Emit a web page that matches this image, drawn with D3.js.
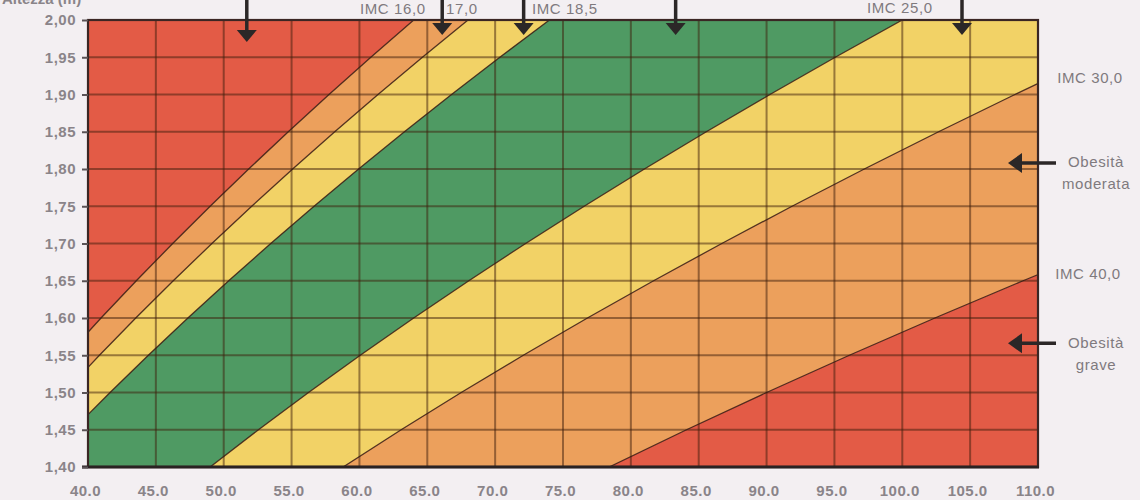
<!DOCTYPE html>
<html><head><meta charset="utf-8">
<script src="https://cdn.jsdelivr.net/npm/d3@7"></script>
<style>
html,body{margin:0;padding:0;background:#f3eff2;}
svg{display:block;}
text{font-family:"Liberation Sans","Arial",sans-serif;}
</style></head>
<body><svg id="c" width="1140" height="500"></svg>
<script>
// ---- data ----
const weightTicks = [40,45,50,55,60,65,70,75,80,85,90,95,100,105,110];
const weightLabels = ["40.0","45.0","50.0","55.0","60.0","65.0","70.0","75.0","80.0","85.0","90.0","95.0","100.0","105.0","110.0"];
const heightTicks = [1.40,1.45,1.50,1.55,1.60,1.65,1.70,1.75,1.80,1.85,1.90,1.95,2.00];
const heightLabels = ["1,40","1,45","1,50","1,55","1,60","1,65","1,70","1,75","1,80","1,85","1,90","1,95","2,00"];
const bmiThresholds = [16, 17, 18.5, 25, 30, 40];
const topArrowWeights = [51.7, 66.1, 72.1, 83.3, 104.4];
const topLabels = ["IMC 16,0", "17,0", "IMC 18,5", "IMC 25,0"];
const rightLabels = ["IMC 30,0", "Obesità", "moderata", "IMC 40,0", "Obesità", "grave"];
const rightArrowHeights = [1.808, 1.566];

// ---- styles / layout ----
const bandColors = ["#e35b46","#eca05c","#f2d266","#4f9a63","#f2d266","#eca05c","#e35b46"];
const M = {left:88, right:1038, top:20, bottom:467};
const svg = d3.select("#c");
const x = d3.scaleLinear().domain([40,110]).range([M.left, M.right]);
const y = d3.scaleLinear().domain([1.40,2.00]).range([M.bottom, M.top]);

svg.append("defs").append("clipPath").attr("id","pc")
  .append("rect").attr("x",M.left).attr("y",M.top).attr("width",M.right-M.left).attr("height",M.bottom-M.top);

const plot = svg.append("g").attr("clip-path","url(#pc)");

// bands: bounded by BMI isolines w = bmi * h^2, evaluated at the height ticks
const bounds = [0, ...bmiThresholds, 1000];
const iso = bmi => heightTicks.map(h => [bmi*h*h, h]);
for (let i=0;i<bounds.length-1;i++){
  const lo = iso(bounds[i]), hi = iso(bounds[i+1]).slice().reverse();
  const pts = lo.concat(hi).map(([w,h]) => [x(w), y(h)]);
  plot.append("path").attr("d", d3.line()(pts) + "Z").attr("fill", bandColors[i]);
}

// grid
const gridColor = "rgba(62,30,12,0.5)";
plot.selectAll(".vg").data(weightTicks).join("line")
  .attr("x1",d=>x(d)).attr("x2",d=>x(d)).attr("y1",M.top).attr("y2",M.bottom)
  .attr("stroke",gridColor).attr("stroke-width",2);
plot.selectAll(".hg").data(heightTicks).join("line")
  .attr("y1",d=>y(d)).attr("y2",d=>y(d)).attr("x1",M.left).attr("x2",M.right)
  .attr("stroke",gridColor).attr("stroke-width",2);

// boundary lines
bmiThresholds.forEach(b => {
  plot.append("path").attr("d", d3.line().x(d=>x(d[0])).y(d=>y(d[1]))(iso(b)))
    .attr("fill","none").attr("stroke","rgba(55,25,15,0.85)").attr("stroke-width",1.3);
});

// border
svg.append("rect").attr("x",M.left).attr("y",M.top).attr("width",M.right-M.left).attr("height",M.bottom-M.top)
  .attr("fill","none").attr("stroke","#3a2624").attr("stroke-width",2.2);
svg.append("line").attr("x1",M.left-6).attr("x2",M.right+1).attr("y1",M.bottom).attr("y2",M.bottom)
  .attr("stroke","#2a2222").attr("stroke-width",3);

// axes
const yAxis = d3.axisLeft(y).tickValues(heightTicks).tickFormat((d,i)=>heightLabels[i]).tickSize(6).tickPadding(6);
const gy = svg.append("g").attr("transform",`translate(${M.left},0)`).call(yAxis);
gy.select(".domain").remove();
gy.selectAll(".tick line").attr("stroke","#5a5356").attr("stroke-width",2);
gy.selectAll(".tick text").attr("fill","#8a8489").attr("font-size",15).attr("font-weight","bold").attr("letter-spacing","0.5px");

const xAxis = d3.axisBottom(x).tickValues(weightTicks).tickFormat((d,i)=>weightLabels[i]).tickSize(0).tickPadding(18);
const gx = svg.append("g").attr("transform",`translate(0,${M.bottom})`).call(xAxis);
gx.select(".domain").remove();
gx.selectAll(".tick text").attr("fill","#8a8489").attr("font-size",15).attr("font-weight","bold").attr("letter-spacing","0.5px").attr("dx",-3);

// partially clipped axis title (cut off at the top edge in the reference)
svg.append("text").attr("x",2).attr("y",4).attr("fill","#8a8489").attr("font-size",15).attr("font-weight","bold").text("Altezza (m)");

// top arrows
const arrowColor = "#2b2727";
const tipY = [42,35,35,35,35];
topArrowWeights.forEach((w,i) => {
  const cx = x(w), t = tipY[i];
  svg.append("line").attr("x1",cx).attr("x2",cx).attr("y1",0).attr("y2",t-10).attr("stroke",arrowColor).attr("stroke-width",3.5);
  svg.append("path").attr("d",`M${cx-10},${t-12}L${cx+10},${t-12}L${cx},${t}Z`).attr("fill",arrowColor);
});

// top labels
const lblColor = "#7f7a7e";
const topLabelPos = [[360,14],[446,14],[532,14],[867,13]];
topLabels.forEach((t,i)=>{
  svg.append("text").attr("x",topLabelPos[i][0]).attr("y",topLabelPos[i][1]).attr("fill",lblColor)
    .attr("font-size",15).attr("letter-spacing","0.6px").text(t);
});

// right labels
const rightLabelPos = [[1090,83],[1096,167],[1096,189],[1088,279],[1096,348],[1096,370]];
rightLabels.forEach((t,i)=>{
  svg.append("text").attr("x",rightLabelPos[i][0]).attr("y",rightLabelPos[i][1]).attr("fill",lblColor)
    .attr("text-anchor","middle").attr("font-size",15).attr("letter-spacing","0.6px").text(t);
});

// right arrows
rightArrowHeights.forEach(h => {
  const cy = y(h), tip = 1008;
  svg.append("line").attr("x1",tip+12).attr("x2",1056).attr("y1",cy).attr("y2",cy).attr("stroke",arrowColor).attr("stroke-width",3.5);
  svg.append("path").attr("d",`M${tip},${cy}L${tip+14},${cy-10}L${tip+14},${cy+10}Z`).attr("fill",arrowColor);
});
</script></body></html>
